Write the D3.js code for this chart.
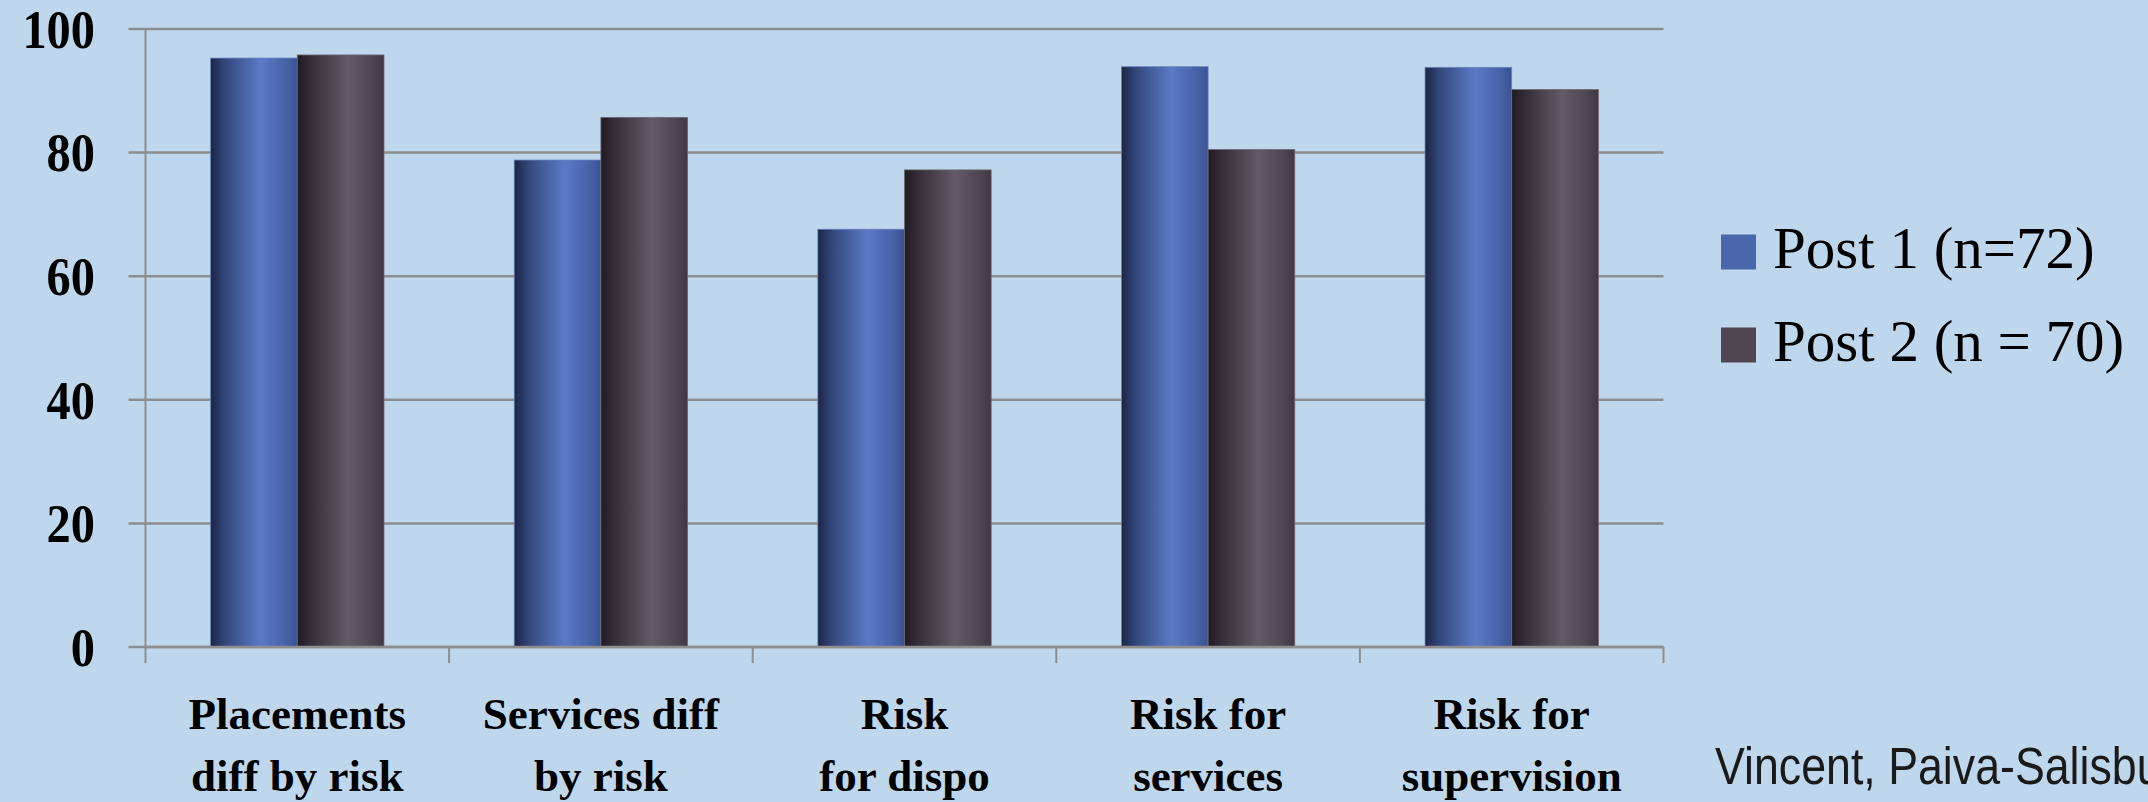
<!DOCTYPE html>
<html>
<head>
<meta charset="utf-8">
<script src="https://cdn.jsdelivr.net/npm/d3@7"></script>
<style>
  html, body { margin: 0; padding: 0; background: #BFD7ED; overflow: hidden; }
  svg { display: block; }
</style>
</head>
<body>
<svg id="chart" width="2148" height="802"></svg>
<script>
// Categories (two-line labels) and the two post-test series (percent)
const categories = [
  ["Placements", "diff by risk"],
  ["Services diff", "by risk"],
  ["Risk", "for dispo"],
  ["Risk for", "services"],
  ["Risk for", "supervision"]
];
const seriesNames = ["Post 1 (n=72)", "Post 2 (n = 70)"];
const post1 = [95.3, 78.8, 67.6, 93.9, 93.8];
const post2 = [95.8, 85.7, 77.2, 80.5, 90.2];
const yTicks = [0, 20, 40, 60, 80, 100];
const credit = "Vincent, Paiva-Salisbury";

const width = 2148, height = 802;
const plot = { left: 145.5, right: 1663.5, top: 29, bottom: 647 };

const svg = d3.select("#chart");
const defs = svg.append("defs");

// Cylinder-like shading for each series
const gradStops = [
  [["0%", "#1B2645"], ["18%", "#34497E"], ["58%", "#5B7AC6"], ["88%", "#4561A6"], ["100%", "#3A5290"]],
  [["0%", "#1F1B21"], ["18%", "#37303A"], ["58%", "#625A66"], ["88%", "#4C4450"], ["100%", "#403944"]]
];
const legendColors = ["#4A66AD", "#4F4651"];
gradStops.forEach((stops, i) => {
  const g = defs.append("linearGradient").attr("id", "bar" + i)
    .attr("x1", "0%").attr("x2", "100%").attr("y1", "0%").attr("y2", "0%");
  stops.forEach(s => g.append("stop").attr("offset", s[0]).attr("stop-color", s[1]));
});

const x0 = d3.scaleBand()
  .domain(d3.range(categories.length))
  .range([plot.left, plot.right])
  .padding(0);

const inset = x0.bandwidth() * 0.2145;
const x1 = d3.scaleBand()
  .domain([0, 1])
  .range([inset, x0.bandwidth() - inset])
  .padding(0);

const y = d3.scaleLinear()
  .domain([0, 100])
  .range([plot.bottom, plot.top]);

const gridColor = "#8E8E8E";

// Horizontal gridlines with left tick stubs
svg.append("g")
  .selectAll("line")
  .data(yTicks)
  .join("line")
  .attr("x1", plot.left - 17)
  .attr("x2", plot.right)
  .attr("y1", d => y(d))
  .attr("y2", d => y(d))
  .attr("stroke", gridColor)
  .attr("stroke-width", 2.5);

// Vertical axis line
svg.append("line")
  .attr("x1", plot.left).attr("x2", plot.left)
  .attr("y1", y(100)).attr("y2", y(0))
  .attr("stroke", gridColor).attr("stroke-width", 2);

// Y tick labels, slightly condensed
svg.append("g")
  .selectAll("g")
  .data(yTicks)
  .join("g")
  .attr("transform", d => `translate(95,${y(d)}) scale(0.88,1)`)
  .append("text")
  .attr("x", 0)
  .attr("y", 0)
  .attr("dy", "0.34em")
  .attr("text-anchor", "end")
  .attr("font-family", "'Liberation Serif', serif")
  .attr("font-weight", "bold")
  .attr("font-size", 55)
  .attr("fill", "#000")
  .text(d => d);

// Bars
const rows = categories.map((c, i) => [post1[i], post2[i]]);
const groups = svg.append("g")
  .selectAll("g")
  .data(rows)
  .join("g")
  .attr("transform", (d, i) => `translate(${x0(i)},0)`);

groups.selectAll("rect")
  .data(d => d.map((v, s) => ({ v, s })))
  .join("rect")
  .attr("x", d => x1(d.s))
  .attr("width", x1.bandwidth())
  .attr("y", d => y(d.v))
  .attr("height", d => y(0) - y(d.v))
  .attr("fill", d => `url(#bar${d.s})`)
  .attr("stroke", d => d.s === 0 ? "#6A83BE" : "#6E6872")
  .attr("stroke-width", 0.8);

// Category axis baseline and ticks
svg.append("line")
  .attr("x1", plot.left).attr("x2", plot.right)
  .attr("y1", y(0)).attr("y2", y(0))
  .attr("stroke", gridColor).attr("stroke-width", 2.5);

const xTickPos = d3.range(categories.length).map(i => x0(i)).concat([plot.right]);
svg.append("g")
  .selectAll("line")
  .data(xTickPos)
  .join("line")
  .attr("x1", d => d).attr("x2", d => d)
  .attr("y1", y(0)).attr("y2", y(0) + 16)
  .attr("stroke", gridColor).attr("stroke-width", 2);

// Category labels
const labels = svg.append("g")
  .selectAll("text")
  .data(categories)
  .join("text")
  .attr("text-anchor", "middle")
  .attr("font-family", "'Liberation Serif', serif")
  .attr("font-weight", "bold")
  .attr("font-size", 45)
  .attr("fill", "#000");
labels.each(function(lines, i) {
  const t = d3.select(this);
  const cx = x0(i) + x0.bandwidth() / 2;
  lines.forEach((ln, k) => {
    t.append("tspan").attr("x", cx).attr("y", 729 + k * 62).text(ln);
  });
});

// Legend
const legend = svg.append("g");
seriesNames.forEach((name, i) => {
  const ly = 252 + i * 93;
  legend.append("rect")
    .attr("x", 1721).attr("y", ly - 17.5)
    .attr("width", 35).attr("height", 35)
    .attr("fill", legendColors[i]);
  legend.append("text")
    .attr("x", 1773).attr("y", ly + 16)
    .attr("font-family", "'Liberation Serif', serif")
    .attr("font-size", 59)
    .attr("fill", "#000")
    .text(name);
});

// Source credit, set in a narrow sans
svg.append("g")
  .attr("transform", "translate(1715,784) scale(0.86,1)")
  .append("text")
  .attr("x", 0).attr("y", 0)
  .attr("font-family", "'Liberation Sans', sans-serif")
  .attr("font-size", 52)
  .attr("fill", "#1A1A1A")
  .text(credit);
</script>
</body>
</html>
